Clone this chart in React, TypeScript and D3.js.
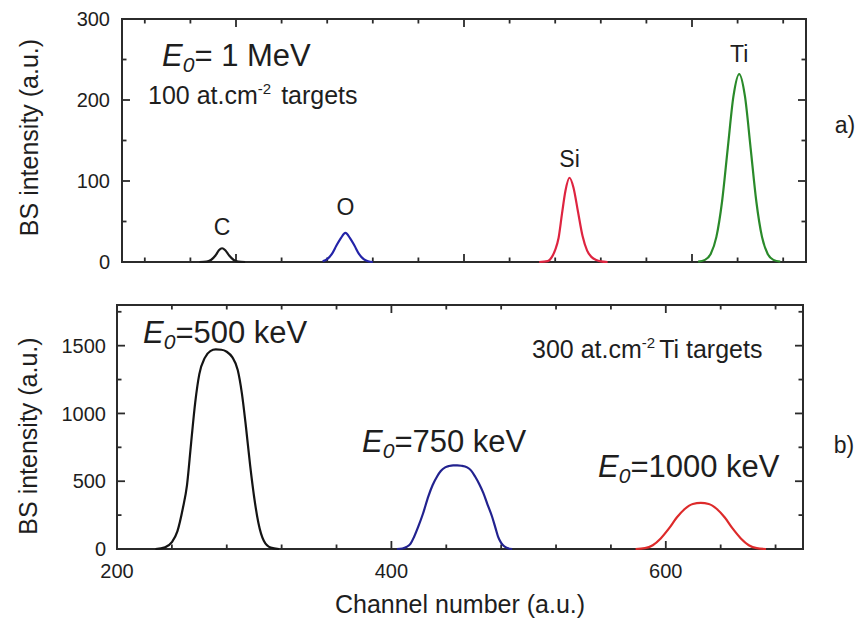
import React from "react";
import * as d3 from "d3";

type Pt = [number, number];

const FONT = "'Liberation Sans', Arial, Helvetica, sans-serif";

// ---------- panel a): E0 = 1 MeV, 100 at.cm^-2 targets ----------
const aChannelDomain: Pt = [150, 450];
const aIntensityDomain: Pt = [0, 300];
const aYTickLabels = [0, 100, 200, 300];
const aXMajorTicks = [200, 300, 400];

const aCarbon: Pt[] = [
  [184, 0], [187, 0.4], [189, 2.5], [191, 8], [192.5, 14.5], [193.9, 17],
  [195.3, 14.5], [197, 8], [199, 2.5], [201, 0.4], [204, 0],
];
const aOxygen: Pt[] = [
  [238, 0.9], [240, 3.5], [242, 9.7], [244, 20], [246, 29.5], [248, 36],
  [250, 29.5], [252, 20], [254, 9.7], [256, 3.5], [258, 0.9], [260, 0],
];
const aSilicon: Pt[] = [
  [333, 0], [336.7, 1], [338.5, 6], [340, 15], [341.5, 30], [343, 60], [344.5, 88],
  [346.3, 104], [348, 92], [350, 62], [352, 32], [354, 14], [356, 6], [358, 2.5],
  [360, 0.8], [363, 0],
];
const aTitanium: Pt[] = [
  [402.7, 0.4], [405.7, 2.6], [408.2, 10], [410.7, 31], [413.2, 75], [415.7, 141],
  [418.2, 205], [420.7, 232], [423.2, 205], [425.7, 141], [428.2, 75], [430.7, 31],
  [433.2, 10], [435.7, 2.6], [438.7, 0.4],
];
const aElementNames = ["C", "O", "Si", "Ti"];

// ---------- panel b): 300 at.cm^-2 Ti targets ----------
const bChannelDomain: Pt = [200, 700];
const bIntensityDomain: Pt = [0, 1800];
const bYTickLabels = [0, 500, 1000, 1500];
const bXTickLabels = [200, 400, 600];

const b500keV: Pt[] = [
  [228, 0], [235, 12], [240, 50], [244, 130], [248, 300], [251, 470], [254, 780],
  [257, 1080], [260, 1290], [264, 1410], [268, 1460], [272, 1472], [276, 1470],
  [280, 1455], [284, 1415], [288, 1320], [291, 1150], [294, 900], [297, 620],
  [300, 380], [303, 195], [307, 60], [312, 10], [318, 0],
];
const b750keV: Pt[] = [
  [404, 0], [408, 4], [411, 15], [414, 40], [416.5, 89], [419.5, 163], [423, 260],
  [427, 390], [430, 470], [433.3, 535], [436, 575], [439.2, 602], [442, 612],
  [445, 617], [448, 617], [451, 614], [455.2, 602], [458, 580], [461, 535],
  [464, 480], [466.9, 416], [470, 330], [473.4, 238], [476, 150], [477.8, 89],
  [480, 45], [482, 22], [484.4, 7], [488, 0],
];
const b1000keV: Pt[] = [
  [578, 0], [584.8, 6], [590.5, 28], [596.3, 78], [602.2, 150], [608, 232],
  [613.8, 295], [619.7, 332], [625.5, 340], [631.3, 332], [637.2, 295], [643, 232],
  [648.8, 150], [654.7, 78], [660.5, 28], [666.3, 6], [673, 0],
];
const bEnergies = ["500", "750", "1000"];

// ---------- layout ----------
const panelA = { left: 122, right: 806, top: 19, bottom: 262 };
const panelB = { left: 117, right: 803, top: 305, bottom: 549 };

const AXIS = "#2b2b2b";
const TEXT = "#1e1e1e";

type Box = { left: number; right: number; top: number; bottom: number };

function Frame(props: {
  box: Box;
  x: d3.ScaleLinear<number, number>;
  y: d3.ScaleLinear<number, number>;
  xMajor: number[];
  xMinor: number[];
  yMajor: number[];
  yMinor: number[];
  yLabelX: number;
  xLabels?: number[];
}) {
  const { box, x, y, xMajor, xMinor, yMajor, yMinor } = props;
  const maj = 8;
  const min = 4.5;
  const ticks: React.ReactNode[] = [];
  xMajor.forEach((v, i) => {
    const px = x(v);
    ticks.push(<line key={`xb${i}`} x1={px} x2={px} y1={box.bottom} y2={box.bottom - maj} />);
    ticks.push(<line key={`xt${i}`} x1={px} x2={px} y1={box.top} y2={box.top + maj} />);
  });
  xMinor.forEach((v, i) => {
    const px = x(v);
    ticks.push(<line key={`xbm${i}`} x1={px} x2={px} y1={box.bottom} y2={box.bottom - min} />);
    ticks.push(<line key={`xtm${i}`} x1={px} x2={px} y1={box.top} y2={box.top + min} />);
  });
  yMajor.forEach((v, i) => {
    const py = y(v);
    ticks.push(<line key={`yl${i}`} x1={box.left} x2={box.left + maj} y1={py} y2={py} />);
    ticks.push(<line key={`yr${i}`} x1={box.right} x2={box.right - maj} y1={py} y2={py} />);
  });
  yMinor.forEach((v, i) => {
    const py = y(v);
    ticks.push(<line key={`ylm${i}`} x1={box.left} x2={box.left + min} y1={py} y2={py} />);
    ticks.push(<line key={`yrm${i}`} x1={box.right} x2={box.right - min} y1={py} y2={py} />);
  });
  return (
    <g>
      <g stroke={AXIS} strokeWidth={1.8}>{ticks}</g>
      <rect
        x={box.left}
        y={box.top}
        width={box.right - box.left}
        height={box.bottom - box.top}
        fill="none"
        stroke={AXIS}
        strokeWidth={2}
      />
      <g fontFamily={FONT} fontSize={20} fill={TEXT}>
        {yMajor.map((v) => (
          <text key={`ylab${v}`} x={props.yLabelX} y={y(v)} dy="0.36em" textAnchor="end">
            {v}
          </text>
        ))}
        {(props.xLabels || []).map((v) => (
          <text key={`xlab${v}`} x={x(v)} y={578} textAnchor="middle">
            {v}
          </text>
        ))}
      </g>
    </g>
  );
}

function E0Label(props: { x: number; y: number; rest: string; size: number }) {
  return (
    <text x={props.x} y={props.y} fontFamily={FONT} fontSize={props.size} fill={TEXT}>
      <tspan fontStyle="italic">E</tspan>
      <tspan fontStyle="italic" fontSize={props.size * 0.68} dy="0.3em">0</tspan>
      <tspan dy={`${-0.3 * 0.68}em`}>{props.rest}</tspan>
    </text>
  );
}

export default function App() {
  const xa = d3.scaleLinear().domain(aChannelDomain).range([panelA.left, panelA.right]);
  const ya = d3.scaleLinear().domain(aIntensityDomain).range([panelA.bottom, panelA.top]);
  const xb = d3.scaleLinear().domain(bChannelDomain).range([panelB.left, panelB.right]);
  const yb = d3.scaleLinear().domain(bIntensityDomain).range([panelB.bottom, panelB.top]);

  const lineA = d3
    .line<Pt>()
    .x((d) => xa(d[0]))
    .y((d) => ya(d[1]))
    .curve(d3.curveMonotoneX);
  const lineB = d3
    .line<Pt>()
    .x((d) => xb(d[0]))
    .y((d) => yb(d[1]))
    .curve(d3.curveMonotoneX);

  const aMinorX = d3.range(160, 450, 20).filter((v) => !aXMajorTicks.includes(v));
  const aMinorY = d3.range(50, 300, 100);
  const bMinorX = d3.range(240, 700, 40).filter((v) => !bXTickLabels.includes(v));
  const bMinorY = d3.range(250, 1800, 500);

  const aSeries = [
    { data: aCarbon, color: "#1a1a1a", gap: 13 },
    { data: aOxygen, color: "#2323a8", gap: 18 },
    { data: aSilicon, color: "#de2440", gap: 11 },
    { data: aTitanium, color: "#2a8a2a", gap: 12 },
  ];
  const bSeries = [
    { data: b500keV, color: "#141414" },
    { data: b750keV, color: "#22228f" },
    { data: b1000keV, color: "#dd2a2a" },
  ];
  const bLabelPos: Pt[] = [
    [143, 343],
    [362, 452],
    [598, 477],
  ];

  return (
    <svg
      width={860}
      height={622}
      viewBox="0 0 860 622"
      style={{ position: "absolute", left: 0, top: 0, background: "#fff" }}
    >
      <rect x={0} y={0} width={860} height={622} fill="#fff" />

      {/* panel a */}
      <Frame
        box={panelA}
        x={xa}
        y={ya}
        xMajor={aXMajorTicks}
        xMinor={aMinorX}
        yMajor={aYTickLabels}
        yMinor={aMinorY}
        yLabelX={110}
      />
      {aSeries.map((s, i) => {
        const peak = s.data.reduce((m, d) => (d[1] > m[1] ? d : m), s.data[0]);
        return (
          <g key={`a${i}`}>
            <path d={lineA(s.data) || ""} fill="none" stroke={s.color} strokeWidth={2.2} />
            <text
              x={xa(peak[0])}
              y={ya(peak[1]) - s.gap}
              textAnchor="middle"
              fontFamily={FONT}
              fontSize={23}
              fill={TEXT}
            >
              {aElementNames[i]}
            </text>
          </g>
        );
      })}
      <E0Label x={162} y={66} rest="= 1 MeV" size={31} />
      <text x={148} y={104} fontFamily={FONT} fontSize={25} fill={TEXT}>
        100 at.cm
        <tspan fontSize={15} dy="-0.65em">-2</tspan>
        <tspan dy="0.39em" dx={10}>targets</tspan>
      </text>
      <text x={845} y={133} textAnchor="middle" fontFamily={FONT} fontSize={23} fill={TEXT}>
        a)
      </text>
      <text
        transform={`translate(38,${(panelA.top + panelA.bottom) / 2 - 3}) rotate(-90)`}
        textAnchor="middle"
        fontFamily={FONT}
        fontSize={25}
        fill={TEXT}
      >
        BS intensity (a.u.)
      </text>

      {/* panel b */}
      <Frame
        box={panelB}
        x={xb}
        y={yb}
        xMajor={bXTickLabels}
        xMinor={bMinorX}
        yMajor={bYTickLabels}
        yMinor={bMinorY}
        yLabelX={106}
        xLabels={bXTickLabels}
      />
      {bSeries.map((s, i) => (
        <path key={`b${i}`} d={lineB(s.data) || ""} fill="none" stroke={s.color} strokeWidth={2.2} />
      ))}
      {bEnergies.map((e, i) => (
        <E0Label key={`e${e}`} x={bLabelPos[i][0]} y={bLabelPos[i][1]} rest={`=${e} keV`} size={31} />
      ))}
      <text x={532} y={358} fontFamily={FONT} fontSize={25} fill={TEXT}>
        300 at.cm
        <tspan fontSize={15} dy="-0.65em">-2</tspan>
        <tspan dy="0.39em" dx={4}>Ti targets</tspan>
      </text>
      <text x={844} y={453} textAnchor="middle" fontFamily={FONT} fontSize={23} fill={TEXT}>
        b)
      </text>
      <text
        transform="translate(37,436) rotate(-90)"
        textAnchor="middle"
        fontFamily={FONT}
        fontSize={25}
        fill={TEXT}
      >
        BS intensity (a.u.)
      </text>
      <text
        x={(panelB.left + panelB.right) / 2}
        y={613}
        textAnchor="middle"
        fontFamily={FONT}
        fontSize={25}
        fill={TEXT}
      >
        Channel number (a.u.)
      </text>
    </svg>
  );
}
